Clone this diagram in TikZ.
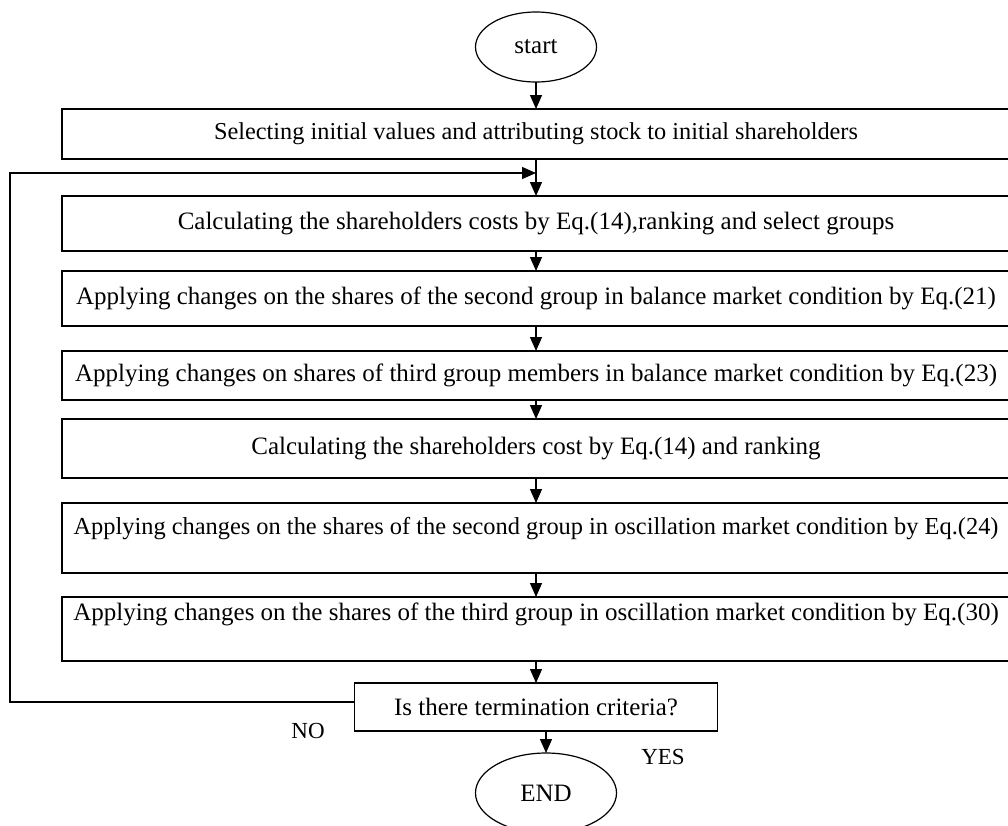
\documentclass[tikz,border=0pt]{standalone}
\usepackage{fontspec}
\setmainfont{Liberation Serif}
\usetikzlibrary{arrows.meta,positioning,shapes.geometric}

\begin{document}
\begin{tikzpicture}[
    x=1pt, y=1pt,
    node distance=20pt,
    term/.style={draw, ellipse, minimum width=121pt, minimum height=70pt, outer sep=0pt, line width=1.2pt, font=\fontsize{25}{28}\selectfont},
    stepbox/.style={draw, minimum width=948pt, inner xsep=0pt, inner ysep=0pt, outer sep=0pt, line width=1.6pt, font=\fontsize{25}{28}\selectfont},
    test/.style={draw, minimum width=363pt, minimum height=48pt, outer sep=0pt, line width=1.6pt, font=\fontsize{25}{28}\selectfont},
    flow/.style={-{Triangle[length=14pt, width=12pt]}, line width=1.3pt},
    lbl/.style={font=\fontsize{23}{26}\selectfont}
]
\useasboundingbox (0,0) rectangle (1008,-825);

\node[term] (start) at (536,-47) {start};
\node[stepbox, minimum height=50pt, below=27pt of start, font=\fontsize{24.3}{27}\selectfont] (init) {Selecting initial values and attributing stock to initial shareholders};
\node[stepbox, minimum height=55pt, below=37pt of init] (cost) {Calculating the shareholders costs by Eq.(14),ranking and select groups};
\node[stepbox, minimum height=55pt, below=20pt of cost] (balsec) {Applying changes on the shares of the second group in balance market condition by Eq.(21)};
\node[stepbox, minimum height=49pt, below=25pt of balsec] (balthird) {Applying changes on shares of third group members in balance market condition by Eq.(23)};
\node[stepbox, minimum height=59pt, below=19pt of balthird] (rank) {Calculating the shareholders cost by Eq.(14) and ranking};
\node[stepbox, minimum height=70pt, text depth=25pt, below=25pt of rank, font=\fontsize{24.4}{27}\selectfont] (oscsec) {Applying changes on the shares of the second group in oscillation market condition by Eq.(24)};
\node[stepbox, minimum height=64pt, text depth=35pt, below=24pt of oscsec] (oscthird) {Applying changes on the shares of the third group in oscillation market condition by Eq.(30)};
\node[test, below=22pt of oscthird] (check) {Is there termination criteria?};
\node[term, minimum width=141pt, minimum height=80pt, below=22pt of check, xshift=10pt] (finish) {END};

\node[lbl] (no) at (308,-731) {NO};
\node[lbl] (yes) at (663,-757) {YES};

\coordinate (back) at ([yshift=-14pt]init.south);

\draw[flow] (start) -- (init);
\draw[flow] (init) -- (cost);
\draw[flow] (cost) -- (balsec);
\draw[flow] (balsec) -- (balthird);
\draw[flow] (balthird) -- (rank);
\draw[flow] (rank) -- (oscsec);
\draw[flow] (oscsec) -- (oscthird);
\draw[flow] (oscthird) -- (check);
\draw[flow] ([xshift=10pt]check.south) -- (finish);
% NO branch back to the top of the loop
\draw[flow] ([yshift=5pt]check.west) -| ([xshift=-526pt]back) -- (back);
\end{tikzpicture}
\end{document}
